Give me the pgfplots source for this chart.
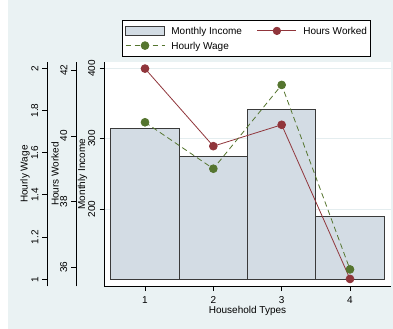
\documentclass[border=0pt]{standalone}
\usepackage{fontspec}
\setmainfont{Liberation Sans}
\usepackage{pgfplots}
\pgfplotsset{compat=1.18}
\definecolor{bgc}{HTML}{EAF2F3}
\definecolor{barc}{HTML}{D3DCE4}
\definecolor{barline}{HTML}{3A3A3A}
\definecolor{maroonc}{HTML}{90353B}
\definecolor{forestc}{HTML}{55752F}
\definecolor{gridc}{HTML}{E4EDEF}
\pgfplotsset{
  common/.style={
    scale only axis, width=287bp, height=224.8bp,
    anchor=south west,
    xmin=0.4, xmax=4.6,
    font=\fontsize{10bp}{12bp}\selectfont,
    /pgf/number format/assume math mode=true,
    tick align=outside, major tick length=4.5bp,
    axis line style={line width=0.8bp, black},
    every tick/.style={black, line width=0.8bp},
    yticklabel style={rotate=90, anchor=south, inner sep=0pt},
    yticklabel shift=4bp,
  },
  linekey/.style={legend image code/.code={\draw[mark repeat=2,mark phase=2,##1] plot coordinates {(0bp,0bp) (19.5bp,0bp) (39bp,0bp)};}},
  barkey/.style={legend image code/.code={\draw[##1] (0bp,-4.3bp) rectangle (39bp,4.3bp);}},
}
\begin{document}
\begin{tikzpicture}[x=1bp,y=1bp]
\useasboundingbox (0,0) rectangle (393,329);
\fill[white] (0,0) rectangle (393,329);
\fill[bgc] (8,0) rectangle (393,329);
% main axis: Monthly Income (bars)
\begin{axis}[common, at={(104bp,42.5bp)},
  ymin=89.8, ymax=409.4,
  axis x line*=bottom, axis y line*=left,
  axis background/.style={fill=white},
  xtick={1,2,3,4}, ytick={200,300,400},
  xticklabel style={anchor=north, inner sep=0pt},
  xticklabel shift=5bp,
  ymajorgrids, grid style={gridc, line width=0.8bp},
  xlabel={Household Types}, ylabel={Monthly Income},
  every axis x label/.style={at={(axis description cs:0.5,-0.109)}, anchor=center},
  every axis y label/.style={at={(axis description cs:-0.0749,0.5)}, rotate=90, anchor=center},
]
\addplot[fill=barc, draw=barline, line width=0.8bp] coordinates {(0.5,100) (0.5,314.2) (1.5,314.2) (1.5,100)} --cycle;
\addplot[fill=barc, draw=barline, line width=0.8bp] coordinates {(1.5,100) (1.5,274.5) (2.5,274.5) (2.5,100)} --cycle;
\addplot[fill=barc, draw=barline, line width=0.8bp] coordinates {(2.5,100) (2.5,341.0) (3.5,341.0) (3.5,100)} --cycle;
\addplot[fill=barc, draw=barline, line width=0.8bp] coordinates {(3.5,100) (3.5,190.0) (4.5,190.0) (4.5,100)} --cycle;
\end{axis}
% Hours Worked scale
\begin{axis}[common, at={(76bp,42.5bp)},
  ymin=35.42, ymax=42.26,
  axis y line*=left, hide x axis,
  ytick={36,38,40,42},
  ylabel={Hours Worked},
  every axis y label/.style={at={(axis description cs:-0.0732,0.5)}, rotate=90, anchor=center},
]
\addplot[draw=none] coordinates {(1,40)};
\end{axis}
% Hourly Wage scale
\begin{axis}[common, at={(47bp,42.5bp)},
  ymin=0.966, ymax=2.031,
  axis y line*=left, hide x axis,
  ytick={1,1.2,1.4,1.6,1.8,2},
  ylabel={Hourly Wage},
  every axis y label/.style={at={(axis description cs:-0.0767,0.5)}, rotate=90, anchor=center},
]
\addplot[draw=none] coordinates {(1,1.5)};
\end{axis}
% Hours Worked line
\begin{axis}[common, at={(104bp,42.5bp)}, ymin=35.42, ymax=42.26, hide axis, clip=false]
\addplot[maroonc, line width=0.8bp, mark=*, mark size=3.9bp, mark options={solid, fill=maroonc, draw=maroonc}]
  coordinates {(1,42.05) (2,39.69) (3,40.34) (4,35.65)};
\end{axis}
% Hourly Wage line + legend
\begin{axis}[common, at={(104bp,42.5bp)}, ymin=0.966, ymax=2.031, hide axis, clip=false,
  legend columns=2,
  legend cell align=left,
  legend style={at={(axis description cs:0.0617,1.1855)}, anchor=north west,
    draw=black, line width=0.8bp, fill=white,
    inner xsep=3bp, inner ysep=4bp,
    row sep=1.7bp,
    nodes={inner xsep=0bp, inner ysep=0bp, text height=10bp, text depth=3bp},
    /tikz/every odd column/.style={column sep=6.5bp},
    /tikz/every even column/.style={column sep=15bp},
    font=\fontsize{10bp}{12bp}\selectfont},
]
\addlegendimage{fill=barc, draw=barline, line width=0.8bp, barkey}
\addlegendentry{Monthly Income}
\addlegendimage{maroonc, line width=0.8bp, mark=*, mark size=3.7bp, mark options={solid, fill=maroonc}, linekey}
\addlegendentry{Hours Worked\hspace{4bp}}
\addplot[forestc, line width=0.8bp, dash pattern=on 5.5bp off 3.5bp, mark=*, mark size=3.9bp, mark options={solid, fill=forestc}, linekey]
  coordinates {(1,1.744) (2,1.524) (3,1.921) (4,1.047)};
\addlegendentry{Hourly Wage}
\end{axis}
\end{tikzpicture}
\end{document}
